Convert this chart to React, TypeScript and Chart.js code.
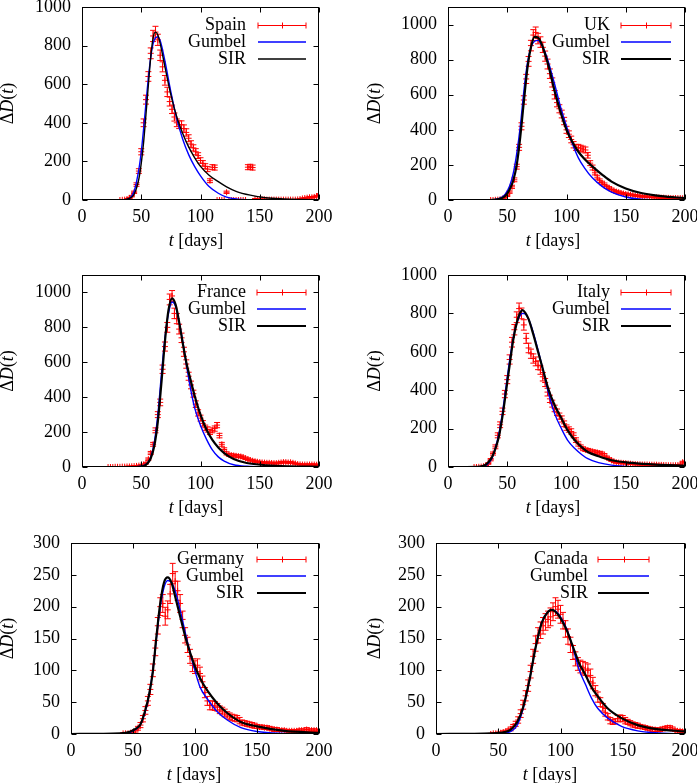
import React, { useEffect, useRef } from "react";
import { Chart, registerables } from "chart.js";

Chart.register(...registerables);

const FAMILY = '"Liberation Serif", "Times New Roman", serif';
const FS = 18;
const N = null;

// shared day grid for the measured data (every 2 days)
const days = [
  20, 22, 24, 26, 28, 30, 32, 34, 36, 38,
  40, 42, 44, 46, 48, 50, 52, 54, 56, 58,
  60, 62, 64, 66, 68, 70, 72, 74, 76, 78,
  80, 82, 84, 86, 88, 90, 92, 94, 96, 98,
  100, 102, 104, 106, 108, 110, 112, 114, 116, 118,
  120, 122, 124, 126, 128, 130, 132, 134, 136, 138,
  140, 142, 144, 146, 148, 150, 152, 154, 156, 158,
  160, 162, 164, 166, 168, 170, 172, 174, 176, 178,
  180, 182, 184, 186, 188, 190, 192, 194, 196, 198,
  200,
];

const xTickValues = [0, 50, 100, 150, 200];

// ---------- Spain ----------
const spainDeaths = [
  N, N, N, N, N, N, 0, 1, 2, 5,
  10, 20, 40, 80, 150, 250, 400, 520, 640, 760,
  850, 870, 830, 750, 690, 620, 560, 510, 470, 430,
  400, 390, 390, 370, 350, 320, 290, 270, 250, 230,
  205, 190, 175, 160, 100, 170, 168, 0, 0, 0,
  0, 40, 0, 0, 0, 0, 0, 0, 0, 0,
  170, 172, 168, 5, 4, 3, 3, 3, 2, 2,
  2, 2, 2, 2, 2, 2, 2, 2, 2, 2,
  2, 3, 5, 8, 10, 12, 14, 14, 16, 20,
  28,
];
const spainErr = [
  N, N, N, N, N, N, 1, 1, 1, 2,
  3, 4, 6, 9, 12, 16, 20, 23, 25, 28,
  29, 30, 29, 27, 26, 25, 24, 23, 22, 21,
  20, 20, 20, 19, 19, 18, 17, 16, 16, 15,
  14, 14, 13, 13, 10, 13, 13, 1, 1, 1,
  1, 6, 1, 1, 1, 1, 1, 1, 1, 1,
  13, 13, 13, 2, 2, 2, 2, 2, 1, 1,
  1, 1, 1, 1, 1, 1, 1, 1, 1, 1,
  1, 2, 2, 3, 3, 3, 4, 4, 4, 4,
  5,
];
const spainCurveDays = [0, 30, 36, 40, 44, 48, 50, 52, 55, 58, 60, 62, 64, 66, 70, 75, 80, 85, 90, 95, 100, 107, 115, 122, 130, 142, 155, 170, 185, 200];
const spainSIR = [0, 0, 2, 8, 30, 110, 190, 300, 520, 740, 840, 870, 855, 810, 690, 545, 430, 345, 275, 220, 174, 130, 95, 68, 45, 25, 12, 6, 3, 1];
const spainGumbel = [0, 0, 1, 8, 45, 160, 250, 370, 570, 740, 810, 840, 845, 825, 720, 560, 420, 315, 235, 174, 125, 71, 35, 15, 5, 1, 0, 0, 0, 0];

// ---------- UK ----------
const ukDeaths = [
  N, N, N, N, N, N, N, N, 0, 0,
  1, 2, 4, 8, 15, 25, 45, 75, 115, 190,
  300, 420, 570, 690, 790, 880, 940, 955, 920, 900,
  870, 820, 775, 720, 670, 600, 555, 520, 490, 450,
  400, 375, 345, 315, 300, 300, 295, 290, 285, 255,
  210, 185, 155, 130, 110, 97, 88, 75, 68, 60,
  52, 48, 44, 40, 37, 34, 32, 30, 28, 26,
  24, 22, 21, 20, 19, 18, 17, 16, 15, 14,
  13, 13, 12, 12, 11, 11, 11, 11, 11, 10,
  10,
];
const ukErr = [
  N, N, N, N, N, N, N, N, 1, 1,
  1, 1, 2, 3, 4, 5, 7, 9, 11, 14,
  17, 20, 24, 26, 28, 30, 31, 31, 30, 30,
  29, 29, 28, 27, 26, 24, 24, 23, 22, 21,
  20, 19, 19, 18, 17, 17, 17, 17, 17, 16,
  14, 14, 12, 11, 10, 10, 9, 9, 8, 8,
  7, 7, 7, 6, 6, 6, 6, 5, 5, 5,
  5, 5, 5, 4, 4, 4, 4, 4, 4, 4,
  4, 4, 3, 3, 3, 3, 3, 3, 3, 3,
  3,
];
const ukCurveDays = [0, 35, 40, 45, 48, 52, 55, 58, 61, 64, 67, 70, 73, 76, 79, 82, 85, 90, 95, 100, 105, 110, 115, 122, 130, 138, 150, 163, 180, 200];
const ukSIR = [0, 0, 2, 10, 21, 60, 110, 200, 360, 560, 750, 870, 930, 925, 890, 830, 760, 620, 500, 400, 330, 275, 235, 190, 145, 105, 66, 40, 22, 11];
const ukGumbel = [0, 0, 3, 15, 30, 80, 150, 265, 420, 620, 780, 870, 905, 910, 885, 840, 780, 660, 530, 420, 320, 240, 185, 125, 78, 45, 17, 4, 1, 0];

// ---------- France ----------
const franceDeaths = [
  N, 0, 0, 0, 1, 1, 1, 2, 2, 3,
  3, 4, 5, 6, 8, 10, 14, 22, 45, 80,
  130, 210, 300, 370, 560, 690, 800, 960, 980, 880,
  850, 790, 740, 660, 590, 520, 470, 420, 360, 310,
  280, 250, 225, 215, 200, 210, 220, 240, 180, 130,
  100, 78, 70, 68, 66, 64, 62, 60, 56, 50,
  45, 40, 36, 33, 30, 28, 26, 25, 24, 24,
  23, 22, 22, 24, 26, 28, 28, 26, 27, 24,
  20, 17, 15, 14, 14, 14, 14, 14, 14, 13,
  12,
];
const franceErr = [
  N, 1, 1, 1, 1, 1, 1, 1, 1, 2,
  2, 2, 2, 2, 3, 3, 4, 5, 7, 9,
  11, 14, 17, 19, 24, 26, 28, 31, 31, 30,
  29, 28, 27, 26, 24, 23, 22, 20, 19, 18,
  17, 16, 15, 15, 14, 14, 15, 15, 13, 11,
  10, 9, 8, 8, 8, 8, 8, 8, 7, 7,
  7, 6, 6, 6, 5, 5, 5, 5, 5, 5,
  5, 5, 5, 5, 5, 5, 5, 5, 5, 5,
  4, 4, 4, 4, 4, 4, 4, 4, 4, 4,
  3,
];
const franceCurveDays = [0, 40, 50, 55, 58, 61, 64, 67, 70, 73, 76, 79, 82, 85, 88, 91, 95, 100, 105, 110, 115, 120, 128, 139, 156, 175, 200];
const franceSIR = [0, 0, 3, 19, 50, 120, 260, 480, 720, 900, 966, 930, 830, 710, 600, 515, 410, 300, 215, 155, 112, 80, 46, 23, 10, 4, 1];
const franceGumbel = [0, 0, 4, 20, 55, 140, 300, 530, 740, 880, 945, 920, 830, 720, 590, 470, 340, 238, 160, 98, 58, 34, 13, 4, 1, 0, 0];

// ---------- Italy ----------
const italyDeaths = [
  N, 0, 0, 1, 2, 4, 8, 18, 38, 70,
  105, 165, 220, 290, 380, 455, 560, 650, 715, 780,
  825, 800, 740, 670, 620, 590, 565, 550, 530, 505,
  470, 440, 390, 355, 330, 305, 285, 265, 250, 225,
  205, 195, 185, 165, 140, 120, 105, 95, 90, 87,
  84, 80, 78, 75, 72, 70, 62, 50, 42, 35,
  28, 25, 23, 22, 21, 20, 18, 17, 16, 15,
  14, 14, 13, 13, 13, 12, 12, 12, 12, 11,
  11, 10, 10, 9, 9, 9, 9, 10, 12, 25,
  26,
];
const italyErr = [
  N, 1, 1, 1, 1, 2, 3, 4, 6, 8,
  10, 13, 15, 17, 19, 21, 24, 25, 27, 28,
  29, 28, 27, 26, 25, 24, 24, 23, 23, 22,
  22, 21, 20, 19, 18, 17, 17, 16, 16, 15,
  14, 14, 14, 13, 12, 11, 10, 10, 9, 9,
  9, 9, 9, 9, 8, 8, 8, 7, 6, 6,
  5, 5, 5, 5, 5, 4, 4, 4, 4, 4,
  4, 4, 4, 4, 4, 3, 3, 3, 3, 3,
  3, 3, 3, 3, 3, 3, 3, 3, 3, 5,
  5,
];
const italyCurveDays = [0, 25, 31, 34, 37, 40, 43, 46, 49, 52, 55, 58, 61, 63, 65, 68, 72, 76, 80, 85, 90, 96, 101, 107, 113, 118, 127, 138, 155, 175, 200];
const italySIR = [0, 1, 9, 25, 50, 95, 160, 265, 395, 530, 660, 750, 805, 817, 805, 770, 690, 600, 510, 400, 322, 250, 191, 139, 102, 78, 56, 35, 21, 12, 7];
const italyGumbel = [0, 0, 5, 18, 45, 100, 175, 285, 420, 555, 670, 750, 790, 800, 798, 770, 700, 610, 510, 380, 278, 196, 139, 96, 64, 43, 23, 10, 2, 0, 0];

// ---------- Germany ----------
const germanyDeaths = [
  N, N, N, N, N, N, N, N, N, N,
  N, 1, 1, 1, 2, 3, 5, 9, 14, 24,
  37, 52, 70, 100, 135, 170, 200, 205, 185, 195,
  220, 252, 240, 225, 205, 180, 155, 140, 122, 108,
  105, 108, 95, 82, 65, 52, 45, 45, 44, 42,
  38, 36, 33, 30, 28, 26, 25, 24, 21, 18,
  17, 16, 15, 14, 13, 12, 11, 11, 10, 10,
  9, 8, 7, 7, 6, 6, 6, 5, 5, 5,
  5, 5, 6, 6, 6, 7, 6, 6, 6, 6,
  5,
];
const germanyErr = [
  N, N, N, N, N, N, N, N, N, N,
  N, 1, 1, 1, 1, 2, 2, 3, 4, 5,
  6, 7, 8, 10, 12, 13, 14, 14, 14, 14,
  15, 16, 15, 15, 14, 13, 12, 12, 11, 10,
  10, 10, 10, 9, 8, 7, 7, 7, 7, 6,
  6, 6, 6, 5, 5, 5, 5, 5, 5, 4,
  4, 4, 4, 4, 4, 3, 3, 3, 3, 3,
  3, 3, 3, 3, 2, 2, 2, 2, 2, 2,
  2, 2, 2, 2, 2, 3, 2, 2, 2, 2,
  2,
];
const germanyCurveDays = [0, 40, 48, 52, 56, 60, 63, 66, 69, 72, 75, 78, 81, 84, 88, 93, 99, 104, 110, 118, 126, 137, 150, 172, 200];
const germanySIR = [0, 1, 4, 8, 15, 38, 62, 98, 155, 206, 238, 246, 238, 216, 185, 147, 111, 88, 68, 48, 33, 19, 12, 5, 2];
const germanyGumbel = [0, 0, 3, 7, 15, 36, 62, 100, 152, 200, 230, 241, 238, 225, 195, 152, 106, 74, 55, 35, 22, 10, 4, 1, 0];

// ---------- Canada ----------
const canadaDeaths = [
  N, N, N, N, N, N, N, N, N, N,
  N, N, 0, 1, 1, 2, 2, 3, 4, 6,
  8, 12, 16, 22, 32, 46, 60, 76, 98, 122,
  142, 155, 163, 170, 176, 180, 184, 192, 200, 196,
  188, 178, 165, 153, 140, 128, 118, 110, 106, 104,
  102, 100, 92, 80, 68, 58, 50, 42, 34, 27,
  21, 19, 20, 24, 25, 24, 21, 19, 17, 15,
  14, 13, 12, 11, 10, 9, 8, 7, 7, 6,
  7, 8, 9, 10, 10, 8, 6, 5, 5, 4,
  4,
];
const canadaErr = [
  N, N, N, N, N, N, N, N, N, N,
  N, N, 1, 1, 1, 1, 1, 2, 2, 2,
  3, 3, 4, 5, 6, 7, 8, 9, 10, 11,
  12, 12, 13, 13, 13, 13, 14, 14, 14, 14,
  14, 13, 13, 12, 12, 11, 11, 10, 10, 10,
  10, 10, 10, 9, 8, 8, 7, 6, 6, 5,
  5, 4, 4, 5, 5, 5, 5, 4, 4, 4,
  4, 4, 3, 3, 3, 3, 3, 3, 3, 2,
  3, 3, 3, 3, 3, 3, 2, 2, 2, 2,
  2,
];
const canadaCurveDays = [0, 45, 55, 60, 65, 70, 75, 80, 85, 90, 93, 96, 100, 105, 110, 115, 120, 125, 130, 138, 149, 162, 176, 200];
const canadaSIR = [0, 1, 3, 7, 18, 42, 84, 136, 175, 192, 195, 192, 182, 163, 137, 111, 93, 73, 59, 40, 25, 14, 8, 4];
const canadaGumbel = [0, 0, 1, 4, 13, 40, 84, 136, 176, 192, 195, 193, 184, 165, 135, 101, 78, 56, 40, 25, 12, 5, 2, 0];

const legendLabels = ["Gumbel", "SIR"];

type Panel = {
  name: string;
  deaths: (number | null)[];
  err: (number | null)[];
  cDays: number[];
  gumbel: number[];
  sir: number[];
  yMax: number;
  yStep: number;
  box: { left: number; top: number; w: number; h: number };
  plot: { l: number; r: number; t: number; b: number };
  yTitleX: number;
  xTitleX: number;
  legend: { text: number; s1: number; s2: number; y0: number };
  sirW: number;
};

const panels: Panel[] = [
  {
    name: "Spain", deaths: spainDeaths, err: spainErr, cDays: spainCurveDays, gumbel: spainGumbel, sir: spainSIR,
    yMax: 1000, yStep: 200,
    box: { left: 0, top: 0, w: 348, h: 262 }, plot: { l: 82, r: 319, t: 7, b: 200 },
    yTitleX: 8, xTitleX: 196, legend: { text: -73, s1: -61, s2: -13, y0: 18 }, sirW: 1.4,
  },
  {
    name: "UK", deaths: ukDeaths, err: ukErr, cDays: ukCurveDays, gumbel: ukGumbel, sir: ukSIR,
    yMax: 1100, yStep: 200,
    box: { left: 348, top: 0, w: 349, h: 262 }, plot: { l: 100, r: 337, t: 7, b: 200 },
    yTitleX: 27, xTitleX: 205, legend: { text: -75, s1: -64, s2: -14, y0: 18 }, sirW: 2.2,
  },
  {
    name: "France", deaths: franceDeaths, err: franceErr, cDays: franceCurveDays, gumbel: franceGumbel, sir: franceSIR,
    yMax: 1100, yStep: 200,
    box: { left: 0, top: 262, w: 348, h: 268 }, plot: { l: 82, r: 319, t: 13, b: 205 },
    yTitleX: 8, xTitleX: 196, legend: { text: -73, s1: -62, s2: -13, y0: 17 }, sirW: 2.2,
  },
  {
    name: "Italy", deaths: italyDeaths, err: italyErr, cDays: italyCurveDays, gumbel: italyGumbel, sir: italySIR,
    yMax: 1000, yStep: 200,
    box: { left: 348, top: 262, w: 349, h: 268 }, plot: { l: 100, r: 337, t: 13, b: 205 },
    yTitleX: 27, xTitleX: 205, legend: { text: -75, s1: -64, s2: -14, y0: 17 }, sirW: 2.2,
  },
  {
    name: "Germany", deaths: germanyDeaths, err: germanyErr, cDays: germanyCurveDays, gumbel: germanyGumbel, sir: germanySIR,
    yMax: 300, yStep: 50,
    box: { left: 0, top: 530, w: 348, h: 253 }, plot: { l: 71, r: 319, t: 13, b: 204 },
    yTitleX: 8, xTitleX: 194, legend: { text: -75, s1: -62, s2: -13, y0: 16 }, sirW: 2.2,
  },
  {
    name: "Canada", deaths: canadaDeaths, err: canadaErr, cDays: canadaCurveDays, gumbel: canadaGumbel, sir: canadaSIR,
    yMax: 300, yStep: 50,
    box: { left: 348, top: 530, w: 349, h: 253 }, plot: { l: 88, r: 337, t: 13, b: 204 },
    yTitleX: 27, xTitleX: 202, legend: { text: -97, s1: -87, s2: -36, y0: 16 }, sirW: 2.2,
  },
];

function fontStr(italic: boolean) {
  return (italic ? "italic " : "") + FS + "px " + FAMILY;
}

function richText(ctx: CanvasRenderingContext2D, segs: [string, boolean][], cx: number, cy: number) {
  let total = 0;
  const ws = segs.map(([t, it]) => {
    ctx.font = fontStr(it);
    const w = ctx.measureText(t).width;
    total += w;
    return w;
  });
  let x = cx - total / 2;
  ctx.textAlign = "left";
  ctx.textBaseline = "middle";
  ctx.fillStyle = "#000";
  segs.forEach(([t, it], i) => {
    ctx.font = fontStr(it);
    ctx.fillText(t, x, cy);
    x += ws[i];
  });
}

function makePlugin(p: Panel) {
  return {
    id: "deco" + p.name,
    beforeDatasetsDraw(chart: any) {
      const { ctx, chartArea: a, scales } = chart;
      const xs = scales.x, ys = scales.y;
      ctx.save();
      ctx.beginPath();
      ctx.rect(a.left, a.top, a.right - a.left, a.bottom - a.top);
      ctx.clip();
      ctx.strokeStyle = "#ff0000";
      ctx.lineWidth = 1;
      ctx.beginPath();
      const n = Math.min(days.length, p.deaths.length, p.err.length);
      for (let i = 0; i < n; i++) {
        const v = p.deaths[i];
        const e = p.err[i];
        if (v == null || e == null) continue;
        const px = xs.getPixelForValue(days[i]);
        const y1 = ys.getPixelForValue(v - e);
        const y2 = ys.getPixelForValue(v + e);
        ctx.moveTo(px, y1); ctx.lineTo(px, y2);
        ctx.moveTo(px - 3, y1); ctx.lineTo(px + 3, y1);
        ctx.moveTo(px - 3, y2); ctx.lineTo(px + 3, y2);
      }
      ctx.stroke();
      ctx.restore();
    },
    afterDraw(chart: any) {
      const { ctx, chartArea: a, scales } = chart;
      const xs = scales.x, ys = scales.y;
      ctx.save();
      // frame
      ctx.strokeStyle = "#000";
      ctx.lineWidth = 1;
      const L = Math.round(a.left) + 0.5, R = Math.round(a.right) - 0.5;
      const T = Math.round(a.top) + 0.5, B = Math.round(a.bottom) - 0.5;
      ctx.strokeRect(L, T, R - L, B - T);
      // inward ticks on all four sides
      ctx.beginPath();
      xs.ticks.forEach((t: any) => {
        const px = Math.round(xs.getPixelForValue(t.value)) + 0.5;
        ctx.moveTo(px, B); ctx.lineTo(px, B - 5);
        ctx.moveTo(px, T); ctx.lineTo(px, T + 5);
      });
      ys.ticks.forEach((t: any) => {
        const py = Math.round(ys.getPixelForValue(t.value)) + 0.5;
        ctx.moveTo(L, py); ctx.lineTo(L + 5, py);
        ctx.moveTo(R, py); ctx.lineTo(R - 5, py);
      });
      ctx.stroke();

      // legend
      const lg = p.legend;
      const labels = [p.name, ...legendLabels];
      labels.forEach((lab, i) => {
        const y = a.top + lg.y0 + i * 17;
        ctx.font = fontStr(false);
        ctx.fillStyle = "#000";
        ctx.textAlign = "right";
        ctx.textBaseline = "middle";
        ctx.fillText(lab, a.right + lg.text, y);
        const x1 = a.right + lg.s1, x2 = a.right + lg.s2;
        ctx.beginPath();
        if (i === 0) {
          ctx.strokeStyle = "#ff0000";
          ctx.lineWidth = 1;
          const yy = Math.round(y) + 0.5;
          ctx.moveTo(x1, yy); ctx.lineTo(x2, yy);
          ctx.moveTo(x1, yy - 3); ctx.lineTo(x1, yy + 3);
          ctx.moveTo(x2, yy - 3); ctx.lineTo(x2, yy + 3);
          const xm = Math.round((x1 + x2) / 2) + 0.5;
          ctx.moveTo(xm, yy - 3); ctx.lineTo(xm, yy + 3);
        } else if (i === 1) {
          ctx.strokeStyle = "#0000ff";
          ctx.lineWidth = 1.6;
          ctx.moveTo(x1, y); ctx.lineTo(x2, y);
        } else {
          ctx.strokeStyle = "#000";
          ctx.lineWidth = p.sirW;
          ctx.moveTo(x1, y); ctx.lineTo(x2, y);
        }
        ctx.stroke();
      });

      // axis titles
      richText(ctx, [["t", true], [" [days]", false]], p.xTitleX, a.bottom + 41);
      ctx.save();
      ctx.translate(p.yTitleX, (a.top + a.bottom) / 2);
      ctx.rotate(-Math.PI / 2);
      richText(ctx, [["Δ", false], ["D", true], ["(", false], ["t", true], [")", false]], 0, 0);
      ctx.restore();

      ctx.restore();
    },
  };
}

function PanelChart({ p }: { p: Panel }) {
  const ref = useRef<HTMLCanvasElement>(null);
  useEffect(() => {
    const canvas = ref.current;
    if (!canvas) return;
    const pts: { x: number; y: number }[] = [];
    const n = Math.min(days.length, p.deaths.length);
    for (let i = 0; i < n; i++) {
      const v = p.deaths[i];
      if (v != null) pts.push({ x: days[i], y: v });
    }
    const gPts = p.cDays.map((d, i) => ({ x: d, y: p.gumbel[i] }));
    const sPts = p.cDays.map((d, i) => ({ x: d, y: p.sir[i] }));
    const tickFont = { family: FAMILY, size: FS };
    const plain = (v: any) => String(v);
    const chart = new Chart(canvas, {
      type: "line",
      data: {
        datasets: [
          {
            label: p.name, data: pts, showLine: false, order: 3,
            pointStyle: "cross", pointRadius: 3, pointBorderWidth: 1,
            pointBorderColor: "#ff0000", pointBackgroundColor: "#ff0000", borderColor: "#ff0000",
          },
          {
            label: "Gumbel", data: gPts, order: 2, borderColor: "#0000ff", borderWidth: 1.4,
            pointRadius: 0, cubicInterpolationMode: "monotone", fill: false,
          },
          {
            label: "SIR", data: sPts, order: 1, borderColor: "#000000", borderWidth: p.sirW,
            pointRadius: 0, cubicInterpolationMode: "monotone", fill: false,
          },
        ],
      } as any,
      options: {
        animation: false,
        responsive: false,
        maintainAspectRatio: false,
        devicePixelRatio: 1,
        events: [],
        layout: { padding: { left: 0, top: p.plot.t, right: p.box.w - p.plot.r, bottom: 0 } },
        plugins: { legend: { display: false }, tooltip: { enabled: false }, title: { display: false } },
        scales: {
          x: {
            type: "linear", min: 0, max: 200, offset: false,
            grid: { display: false, drawTicks: false }, border: { display: false },
            ticks: { stepSize: 50, padding: 6, color: "#000", font: tickFont, maxRotation: 0, autoSkip: false, includeBounds: false, callback: plain },
            afterBuildTicks: (s: any) => { s.ticks = xTickValues.map((v) => ({ value: v })); },
            afterFit: (s: any) => { s.height = p.box.h - p.plot.b; s.paddingLeft = 0; s.paddingRight = 0; },
          },
          y: {
            type: "linear", min: 0, max: p.yMax,
            grid: { display: false, drawTicks: false }, border: { display: false },
            ticks: { stepSize: p.yStep, padding: 11, color: "#000", font: tickFont, autoSkip: false, includeBounds: false, callback: plain },
            afterBuildTicks: (s: any) => { s.ticks = s.ticks.filter((t: any) => t.value % p.yStep === 0); },
            afterFit: (s: any) => { s.width = p.plot.l; s.paddingTop = 0; s.paddingBottom = 0; },
          },
        },
      } as any,
      plugins: [makePlugin(p)],
    });
    return () => chart.destroy();
  }, [p]);
  return (
    <canvas
      ref={ref}
      width={p.box.w}
      height={p.box.h}
      style={{ position: "absolute", left: p.box.left, top: p.box.top, width: p.box.w, height: p.box.h }}
    />
  );
}

export default function App() {
  return (
    <div style={{ position: "absolute", left: 0, top: 0, width: 697, height: 783, background: "#fff", overflow: "hidden" }}>
      {panels.map((p) => (
        <PanelChart key={p.name} p={p} />
      ))}
    </div>
  );
}
